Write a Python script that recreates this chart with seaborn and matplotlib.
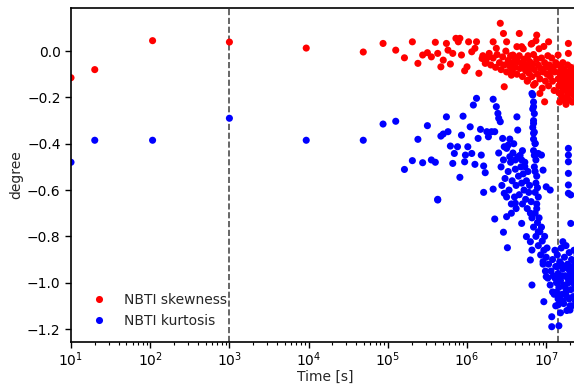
import numpy as np
import pandas as pd
import matplotlib
matplotlib.use("Agg")
import matplotlib.pyplot as plt
from matplotlib.ticker import FixedLocator, FuncFormatter, LogLocator, NullFormatter
import seaborn as sns

# ---- data (time as log10 seconds, value in degree) ----
skew_logt = [1.00, 1.30, 2.03, 3.00, 3.97, 4.69, 4.94, 5.10,
             5.21, 5.31, 5.38, 5.44, 5.50, 5.55, 5.60, 5.63, 5.67, 5.70, 5.74, 5.76,
             5.79, 5.82, 5.86, 5.89, 5.91, 5.93, 5.97, 6.00, 6.02, 6.06, 6.10, 6.12,
             6.15, 6.19, 6.23, 6.27, 6.33, 6.37, 6.42, 6.46, 6.47, 6.50, 6.52, 6.56,
             6.58, 6.63, 6.66, 6.69, 6.73, 6.77, 6.82, 6.84, 6.88, 6.92, 6.98, 7.03,
             7.15, 7.28, 7.28,
             6.20, 6.24, 6.28, 6.30, 6.33, 6.36, 6.38, 6.41, 6.43, 6.45, 6.47, 6.49,
             6.50, 6.52, 6.54, 6.55, 6.57, 6.58, 6.60, 6.61, 6.63, 6.64, 6.66, 6.67,
             6.69, 6.70, 6.71, 6.72, 6.74, 6.75, 6.76, 6.77, 6.78, 6.79, 6.80, 6.81,
             6.82, 6.83, 6.84, 6.85, 6.86, 6.87, 6.88, 6.89, 6.90, 6.91, 6.92, 6.93,
             6.94, 6.95, 6.96, 6.97, 6.98, 6.99, 7.00, 7.01, 7.02, 7.03, 7.04, 7.05,
             7.06, 7.07, 7.08, 7.09, 7.10, 7.11, 7.12,
             7.15, 7.15, 7.16, 7.17, 7.17, 7.18, 7.19, 7.19, 7.20, 7.21, 7.21, 7.22,
             7.23, 7.23, 7.24, 7.25, 7.25, 7.26, 7.27, 7.27, 7.28, 7.29, 7.29, 7.30,
             7.31, 7.31, 7.32, 7.33, 7.33, 7.34, 7.35, 7.35, 7.36, 7.37, 7.37, 7.38,
             7.39, 7.39, 7.16, 7.18, 7.20, 7.22, 7.24, 7.26, 7.28, 7.30, 7.32, 7.34,
             7.36, 7.38]
skew_val = [-0.115, -0.080, 0.045, 0.039, 0.013, -0.004, 0.033, 0.004,
            -0.029, 0.040, -0.053, -0.017, -0.007, -0.025, 0.038, -0.010, -0.068, -0.039, 0.033, 0.004,
            -0.056, -0.010, 0.055, 0.040, 0.055, -0.017, -0.085, -0.068, 0.040, -0.003, 0.012, 0.040,
            -0.096, -0.032, -0.053, -0.025, 0.040, 0.012, 0.120, 0.076, -0.154, 0.040, -0.053, -0.104,
            -0.017, 0.019, 0.076, 0.019, -0.068, -0.125, 0.033, -0.147, 0.069, -0.183, -0.219, 0.040,
            -0.017, 0.033, -0.010,
            -0.020, -0.045, -0.010, -0.060, -0.030, -0.070, -0.015, -0.050, -0.080, -0.025, -0.060, 0.000,
            -0.090, -0.040, -0.065, -0.020, -0.085, -0.050, -0.030, -0.070, -0.100, -0.045, -0.020, -0.075,
            -0.055, -0.110, 0.010, -0.035, -0.085, -0.060, -0.130, -0.020, -0.095, -0.045, -0.070, 0.030,
            -0.110, -0.055, -0.015, -0.080, -0.140, 0.045, -0.035, -0.100, -0.060, 0.010, -0.120, -0.075,
            -0.030, -0.160, -0.090, 0.020, -0.050, -0.130, -0.070, -0.100, -0.020, -0.150, -0.060, -0.110,
            -0.085, -0.030, -0.130, -0.070, -0.170, -0.090, -0.050,
            -0.060, -0.120, -0.180, -0.090, -0.220, -0.140, -0.070, -0.190, -0.110, -0.160, -0.050, -0.210,
            -0.130, -0.080, -0.170, -0.100, -0.230, -0.150, -0.060, -0.190, -0.120, -0.090, -0.210, -0.150,
            -0.180, -0.070, -0.120, -0.220, -0.100, -0.160, -0.130, -0.190, -0.080, -0.150, -0.210, -0.110,
            -0.170, -0.060, -0.150, -0.100, -0.200, -0.120, -0.140, -0.110, -0.170, -0.130, -0.150, -0.110,
            -0.180, -0.140]

kurt_logt = [1.00, 1.30, 2.03, 3.00, 3.97, 4.69, 4.94, 5.10,
             5.21, 5.31, 5.38, 5.44, 5.50, 5.55, 5.60, 5.63, 5.67, 5.70, 5.74, 5.76,
             5.79, 5.82, 5.84, 5.88, 5.91, 5.93, 5.95, 5.97, 5.98, 6.01, 6.04, 6.06,
             6.08, 6.10, 6.12, 6.14, 6.17, 6.18, 6.21, 6.23, 6.25, 6.27, 6.31, 6.33,
             6.35, 6.37, 6.39, 6.40, 6.42, 6.45, 6.47, 6.52, 6.54, 6.61, 6.63, 6.64,
             6.65, 6.69, 6.73, 6.82, 6.84, 6.84, 6.84, 6.86, 6.90, 6.94, 6.96, 7.00,
             7.05, 7.28, 7.28, 7.28, 7.28, 7.28, 7.28,
             5.63, 6.21, 6.33, 6.35, 6.46, 6.47, 6.50, 6.51, 6.56, 6.61, 6.69, 6.75,
             6.80, 6.82, 6.80, 6.82, 6.90, 6.96, 6.97, 7.00, 7.07, 7.07, 7.16, 7.15,
             7.21, 7.31, 7.31, 7.30,
             6.83, 6.84, 6.83, 6.85, 6.84, 6.83, 6.85, 6.84, 6.86, 6.84, 6.85, 6.87,
             6.85, 6.86, 6.88, 6.87, 6.89, 6.86, 6.90, 6.88,
             6.40, 6.43, 6.46, 6.48, 6.50, 6.52, 6.53, 6.55, 6.57, 6.58, 6.60, 6.61,
             6.62, 6.64, 6.65, 6.66, 6.68, 6.69, 6.70, 6.71, 6.72, 6.73, 6.74, 6.75,
             6.76, 6.77, 6.78, 6.79, 6.80, 6.81, 6.44, 6.50, 6.56, 6.62, 6.67, 6.59,
             6.54, 6.70,
             6.82, 6.84, 6.86, 6.87, 6.89, 6.90, 6.92, 6.93, 6.95, 6.96, 6.97, 6.99,
             7.00, 7.02, 7.03, 7.05, 7.06, 7.08, 6.88, 6.91, 6.94, 6.98, 7.01,
             7.08, 7.09, 7.10, 7.11, 7.12, 7.12, 7.13, 7.14, 7.15, 7.15, 7.16, 7.17,
             7.18, 7.18, 7.19, 7.20, 7.21, 7.22, 7.22, 7.23, 7.24, 7.25, 7.25, 7.26,
             7.27, 7.28, 7.29, 7.29, 7.30, 7.31, 7.32, 7.32, 7.33, 7.34, 7.35, 7.35,
             7.36, 7.37, 7.37, 7.38, 7.39, 7.39, 7.14, 7.16, 7.20, 7.24, 7.27, 7.31,
             7.34, 7.36, 7.13, 7.17, 7.21, 7.26, 7.30, 7.11, 7.19, 7.23, 7.28, 7.33]
kurt_val = [-0.480, -0.385, -0.385, -0.290, -0.385, -0.385, -0.315, -0.303,
            -0.511, -0.473, -0.381, -0.482, -0.322, -0.470, -0.480, -0.640, -0.367, -0.358, -0.284, -0.348,
            -0.410, -0.485, -0.442, -0.413, -0.545, -0.363, -0.281, -0.478, -0.449, -0.413, -0.327, -0.442,
            -0.233, -0.489, -0.204, -0.377, -0.338, -0.449, -0.496, -0.525, -0.348, -0.370, -0.348, -0.208,
            -0.348, -0.240, -0.269, -0.290, -0.305, -0.377, -0.413, -0.406, -0.456, -0.470, -0.284, -0.341,
            -0.456, -0.470, -0.499, -0.183, -0.240, -0.312, -0.355, -0.398, -0.442, -0.449, -0.514, -0.586,
            -0.600, -0.420, -0.449, -0.478, -0.528, -0.578, -0.614,
            -0.643, -0.610, -0.596, -0.725, -0.782, -0.614, -0.715, -0.849, -0.700, -0.657, -0.744, -0.801,
            -0.823, -0.859, -0.902, -1.010, -0.780, -0.909, -1.082, -0.974, -1.147, -1.190, -1.186, -1.096,
            -0.823, -0.744, -0.621, -1.118,
            -0.190, -0.220, -0.250, -0.270, -0.300, -0.330, -0.350, -0.380, -0.400, -0.430, -0.450, -0.470,
            -0.500, -0.520, -0.540, -0.570, -0.590, -0.610, -0.630, -0.660,
            -0.440, -0.500, -0.470, -0.550, -0.420, -0.520, -0.600, -0.480, -0.560, -0.440, -0.630, -0.510,
            -0.580, -0.460, -0.540, -0.620, -0.500, -0.570, -0.660, -0.530, -0.600, -0.480, -0.640, -0.560,
            -0.680, -0.520, -0.610, -0.580, -0.700, -0.650, -0.580, -0.630, -0.660, -0.680, -0.450, -0.400,
            -0.380, -0.430,
            -0.720, -0.760, -0.700, -0.800, -0.740, -0.840, -0.780, -0.880, -0.820, -0.920, -0.860, -0.950,
            -0.890, -0.980, -0.920, -1.010, -0.950, -1.040, -0.680, -0.720, -0.760, -0.800, -0.850,
            -0.900, -0.970, -1.050, -0.860, -0.930, -1.100, -1.000, -0.880, -0.960, -1.070, -1.020, -0.910,
            -0.990, -1.130, -0.850, -1.050, -0.940, -1.010, -1.090, -0.890, -0.970, -1.040, -0.840, -1.120,
            -0.920, -1.000, -1.070, -0.870, -0.950, -1.030, -1.100, -0.900, -0.980, -1.060, -0.860, -0.940,
            -1.010, -1.080, -0.910, -0.990, -1.040, -0.880, -0.930, -0.990, -0.970, -1.020, -0.980, -0.960,
            -1.000, -0.970, -1.040, -1.060, -1.080, -1.060, -1.100, -0.980, -0.920, -0.930, -0.940, -0.930]

series_names = ["NBTI skewness", "NBTI kurtosis"]
vline_times = [1e3, 1.4e7]
x_tick_exponents = [1, 2, 3, 4, 5, 6, 7]
y_ticks = [0.0, -0.2, -0.4, -0.6, -0.8, -1.0, -1.2]

df = pd.concat([
    pd.DataFrame({"time": 10 ** np.array(skew_logt), "degree": skew_val, "series": series_names[0]}),
    pd.DataFrame({"time": 10 ** np.array(kurt_logt), "degree": kurt_val, "series": series_names[1]}),
], ignore_index=True)

sns.set_theme(style="white")
plt.rcParams["font.family"] = ["DejaVu Sans"]

fig = plt.figure(figsize=(5.74, 3.87), dpi=100)
ax = fig.add_axes([71 / 574, 1 - 342 / 387, 1 - 71 / 574 + 0.01, (342 - 8) / 387])

sns.scatterplot(data=df, x="time", y="degree", hue="series",
                palette={series_names[0]: "red", series_names[1]: "blue"},
                s=26, linewidth=0, ax=ax, legend=True)

for t in vline_times:
    ax.axvline(t, color="#4d4d4d", linestyle="--", linewidth=1.2, zorder=0)

ax.set_xscale("log")
ax.set_xlim(10, 2.65e7)
ax.set_ylim(-1.256, 0.186)
ax.xaxis.set_major_locator(FixedLocator([10.0 ** e for e in x_tick_exponents]))
ax.xaxis.set_major_formatter(FuncFormatter(
    lambda v, pos: r"$\mathdefault{10^{%d}}$" % int(round(np.log10(v)))))
ax.xaxis.set_minor_locator(LogLocator(base=10, subs=np.arange(2, 10), numticks=30))
ax.xaxis.set_minor_formatter(NullFormatter())
ax.set_yticks(y_ticks)
ax.set_xlabel("Time [s]", fontsize=10, labelpad=1)
ax.set_ylabel("degree", fontsize=10, labelpad=3)
ax.tick_params(axis="both", which="both", direction="out", labelsize=10,
               bottom=True, left=True, top=False, right=False, colors="black")
ax.tick_params(axis="both", which="major", length=4, width=1)
ax.tick_params(axis="x", which="both", pad=2)
ax.tick_params(axis="x", which="minor", length=2.5, width=0.8)
for side in ["left", "bottom", "top", "right"]:
    ax.spines[side].set_color("black")
    ax.spines[side].set_linewidth(1.2)

leg = ax.legend(loc="lower left", frameon=False, fontsize=10, handletextpad=0.8,
                borderaxespad=0.6, markerscale=1.0)

fig.savefig("out.png", dpi=100)
